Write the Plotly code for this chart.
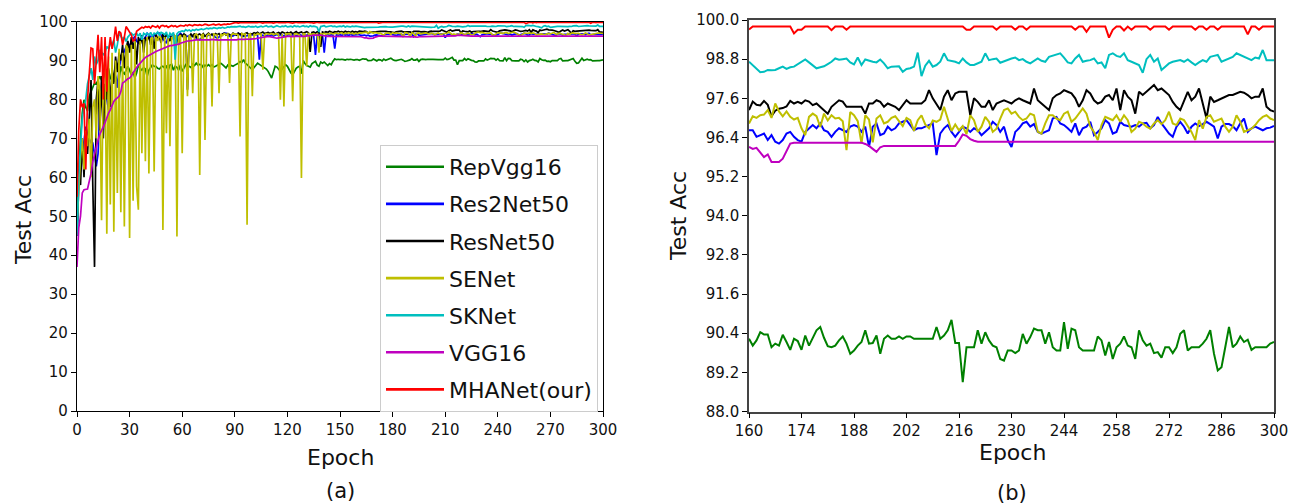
import plotly.graph_objects as go

# ---------------------------------------------------------------- data
epochs_early = list(range(0, 160))      # epochs 0..159
epochs_late = list(range(160, 301))     # epochs 160..300 (zoomed panel)

repvgg16_early = [
    45, 62, 70, 76.5, 79.9, 78, 77, 80.8, 82, 83.3,
    84.2, 84, 85, 85.9, 85, 85.5, 86.7, 86, 87.6, 85.5,
    85, 86.5, 86, 84.6, 85, 88.5, 87, 86.5, 87.5, 88.5,
    87.5, 86.3, 87, 85.5, 86.8, 88.9, 88, 87.5, 88.2, 87.8,
    85.9, 87.5, 88.2, 88.9, 88.5, 88.5, 88, 87.8, 88.3, 88.5,
    88, 88.5, 87.5, 88.8, 89, 87.5, 88.5, 88.2, 87.5, 88.9,
    87.2, 88.3, 88.9, 88.5, 88.5, 88.2, 89, 88.7, 89.3, 88.8,
    89, 88.9, 88.2, 88.8, 88.5, 88.9, 88.5, 88.9, 88.3, 88.5,
    88.8, 89, 89.3, 88.9, 88.5, 88.1, 88.8, 88.4, 88.7, 88.5,
    88.8, 89, 89.3, 89.7, 89.5, 90.2, 89.3, 88.9, 88.5, 88.0,
    87.6, 88.2, 88.8, 89.3, 89, 88.7, 88.5, 88.3, 87.8, 87.2,
    86.2, 85.5, 87, 88.5, 88.3, 87.8, 87.2, 87.8, 88.5, 88.9,
    88.5, 87.6, 86.8, 86.3, 87.2, 88, 88.3, 88.5, 86.6, 90,
    89.2, 88.7, 88.5, 88.3, 89.2, 89.6, 89.8, 88.8, 88.5, 89.6,
    89.3, 89.6, 89, 88.7, 89.2, 88.9, 89.8, 90.4, 90.2, 90.3,
    90.2, 90.3, 90.2, 90.1, 90.3, 90.2, 90.3, 90.2, 90.1, 90.2,
]
repvgg16_late = [
    90.23, 90.02, 90.18, 90.43, 90.36, 90.36, 89.97, 90.08, 90.02, 90.35,
    90.13, 89.89, 90.23, 90.16, 89.89, 90.33, 90.02, 90.26, 90.49, 90.59,
    90.26, 90.00, 89.97, 90.02, 90.18, 90.30, 90.08, 89.77, 89.87, 90.02,
    90.13, 90.49, 90.08, 90.10, 90.33, 89.77, 90.23, 90.33, 90.23, 90.23,
    90.30, 90.23, 90.30, 90.30, 90.23, 90.23, 90.23, 90.23, 90.23, 90.23,
    90.59, 90.23, 90.33, 90.49, 90.81, 90.10, 90.10, 88.90, 89.97, 89.97,
    89.97, 90.49, 90.08, 90.43, 90.18, 90.02, 89.97, 89.61, 89.56, 89.87,
    89.87, 89.79, 89.87, 90.38, 90.08, 90.28, 90.54, 90.49, 90.49, 90.08,
    90.43, 89.97, 89.87, 89.87, 90.74, 89.92, 90.54, 90.49, 89.97, 89.87,
    89.87, 89.87, 89.87, 90.30, 90.18, 89.72, 90.13, 89.61, 89.97, 90.08,
    90.30, 90.02, 89.97, 89.61, 90.49, 90.18, 90.02, 90.08, 89.79, 89.82,
    89.65, 89.97, 89.97, 89.79, 89.97, 90.38, 90.49, 89.87, 89.97, 89.97,
    89.97, 90.08, 90.23, 90.49, 89.77, 89.26, 89.36, 89.97, 90.59, 89.97,
    90.08, 90.30, 90.13, 90.20, 89.89, 89.97, 89.97, 89.97, 89.97, 90.08,
    90.13,
]

res2net50_early = [
    45, 57.7, 62, 66, 69.6, 73, 71, 69.6, 68.8, 68.8,
    66, 62.8, 66, 77.3, 79, 80.8, 80, 80, 77.3, 82,
    84.2, 84.5, 85, 83, 88, 90.2, 91.5, 92.7, 93.5, 94.4,
    94, 93.6, 95.5, 96.2, 95, 94.4, 95.5, 95.3, 95.3, 96,
    97, 96.5, 96, 95.7, 96.5, 96.8, 97, 97, 96.5, 95.5,
    95, 94.4, 96.2, 96.2, 96, 95.7, 95.8, 95.7, 96.5, 97,
    96.5, 96.2, 96, 96.2, 96.4, 96.2, 96.2, 96, 95.8, 95.5,
    95.3, 95.8, 96.2, 96.3, 96.2, 96.5, 96.6, 96.6, 96.2, 95.9,
    95.7, 96, 96.5, 96.8, 97, 97, 96.5, 96.2, 96.2, 96.3,
    96.6, 96.8, 97, 96.6, 96.2, 96.2, 96.3, 96.4, 96.5, 96.6,
    96.6, 96.5, 96.7, 96.4, 90.2, 96.2, 96.5, 96.3, 96.2, 96.6,
    96.4, 96.6, 96.3, 96.5, 96.7, 96.4, 96.6, 96.5, 96.3, 96.6,
    96.5, 96.7, 96.4, 96.6, 96.5, 96.3, 96.6, 96.7, 96.4, 96.5,
    96.6, 96.4, 96.7, 96.5, 96.6, 96.4, 91.4, 96.5, 96.6, 96.4,
    96.6, 92, 96.5, 96.7, 96.4, 96.6, 96.5, 93, 96.6, 96.5,
    96.6, 96.4, 96.7, 96.5, 96.6, 96.4, 96.7, 96.5, 96.6, 96.6,
]
res2net50_late = [
    96.62, 96.62, 96.42, 96.47, 96.52, 96.32, 96.47, 96.27, 96.21, 96.32,
    96.52, 96.57, 96.42, 96.32, 96.27, 96.57, 96.68, 96.78, 96.68, 96.83,
    96.62, 96.57, 96.42, 96.57, 96.68, 96.62, 96.57, 96.73, 96.78, 96.73,
    96.57, 96.73, 96.11, 96.73, 96.83, 96.47, 96.52, 96.73, 96.62, 96.68,
    96.83, 96.88, 96.93, 96.78, 96.62, 96.68, 96.68, 96.73, 96.78, 96.83,
    95.86, 96.52, 96.68, 96.78, 96.57, 96.42, 96.57, 96.73, 96.68, 96.57,
    96.68, 96.62, 96.47, 96.57, 96.68, 96.88, 96.78, 96.57, 96.73, 96.32,
    96.11, 96.57, 96.68, 96.83, 96.88, 96.73, 96.81, 96.57, 96.52, 96.57,
    96.62, 96.98, 97.03, 96.83, 96.78, 96.68, 96.57, 96.83, 96.47, 96.68,
    96.73, 96.88, 96.47, 96.57, 96.68, 96.93, 96.83, 96.52, 96.57, 96.88,
    96.78, 96.75, 96.73, 96.78, 96.73, 96.83, 96.85, 96.68, 96.78, 97.03,
    96.83, 96.68, 96.52, 96.42, 96.73, 96.88, 96.73, 96.52, 96.73, 96.83,
    96.75, 96.81, 96.88, 96.81, 96.73, 96.37, 96.73, 96.81, 96.81, 96.75,
    96.62, 96.83, 96.98, 96.57, 96.68, 96.73, 96.68, 96.62, 96.68, 96.70,
    96.75,
]

resnet50_early = [
    45, 62, 58, 70, 60, 72, 66, 75, 85, 58,
    37, 80, 85, 72, 86, 70, 84, 80, 88, 78,
    88, 84, 91, 87, 92, 90, 94, 88, 93, 95,
    92, 96, 93, 95.5, 89, 96, 94, 96.5, 92, 96,
    95, 96.5, 94, 96.2, 93, 96.8, 95.5, 96, 94.5, 96.8,
    95.5, 96.7, 96, 95, 96.5, 96.8, 95.7, 96.5, 94, 96.8,
    96.2, 96.8, 96.5, 82.5, 96, 96.8, 96.2, 96.9, 95.8, 96.6,
    96.8, 96.4, 96.9, 96.2, 96.6, 97, 96.5, 96.8, 96.4, 96.9,
    96.6, 96.9, 96.3, 96.8, 97, 96.5, 96.9, 96.7, 96.4, 97,
    96.8, 96.5, 97, 96.7, 96.9, 96.4, 96.9, 97.1, 96.6, 96.9,
    96.8, 97.1, 96.9, 97.2, 96.8, 97, 97.3, 96.9, 97.1, 97.2,
    96.9, 97.1, 97.3, 96.8, 97, 97.2, 96.9, 97.3, 97.1, 96.9,
    97.2, 97, 97.3, 96.9, 97.1, 97.4, 97, 97.2, 97.3, 97,
    97.2, 97.4, 97.1, 92.2, 97.2, 97.3, 97, 97.4, 97.2, 93.5,
    97.3, 97.1, 97.4, 97.2, 97.5, 97.3, 97.1, 97.4, 97.3, 97.5,
    97.3, 97.4, 97.2, 97.5, 97.3, 97.4, 97.2, 97.5, 97.3, 97.4,
]
resnet50_late = [
    97.24, 97.50, 97.40, 97.38, 97.52, 97.40, 97.05, 97.22, 97.28, 97.30,
    97.35, 97.52, 97.44, 97.49, 97.44, 97.54, 97.50, 97.39, 97.44, 97.34,
    97.24, 97.13, 97.34, 97.44, 97.54, 97.50, 97.34, 97.34, 97.34, 97.34,
    97.34, 97.13, 97.44, 97.44, 97.54, 97.49, 97.34, 97.44, 97.39, 97.34,
    97.24, 97.40, 97.54, 97.44, 97.44, 97.44, 97.44, 97.54, 97.85, 97.60,
    97.40, 97.24, 97.65, 97.85, 97.54, 97.75, 97.80, 97.80, 97.80, 97.08,
    97.60, 97.49, 97.34, 97.34, 97.54, 97.24, 97.44, 97.49, 97.54, 97.49,
    97.44, 97.54, 97.60, 97.54, 97.49, 97.44, 97.90, 97.54, 97.44, 97.34,
    97.24, 97.60, 97.70, 97.75, 97.85, 97.80, 97.75, 97.60, 97.34, 97.54,
    97.85, 97.75, 97.54, 97.44, 97.49, 97.65, 97.70, 97.54, 97.90, 97.24,
    97.85, 97.65, 97.54, 97.13, 97.80, 97.70, 97.80, 97.90, 98.01, 97.85,
    97.90, 97.80, 97.70, 97.49, 97.34, 97.24, 97.54, 97.80, 97.54, 97.65,
    97.90, 97.44, 96.98, 97.65, 97.49, 97.54, 97.60, 97.65, 97.70, 97.70,
    97.75, 97.80, 97.77, 97.70, 97.60, 97.65, 97.65, 97.90, 97.34, 97.24,
    97.19,
]

senet_early = [
    48, 58, 65, 70, 62, 72, 68, 75, 60, 78,
    80, 70, 86, 82, 49, 88, 90, 45.5, 91, 53,
    92, 46, 90, 56, 93, 51, 92, 47.4, 94, 93,
    44.4, 94, 54, 95, 57.7, 51.7, 95, 66.2, 95.5, 64.1,
    96, 61, 95.5, 96, 61.5, 96, 95, 96.5, 95.5, 46.5,
    96, 71.3, 96.5, 68, 96, 95.5, 96.5, 44.8, 96, 96.5,
    66.2, 96.5, 96, 80.8, 96.5, 95.8, 81.6, 96.5, 96.8, 96.2,
    60.6, 96.5, 96.8, 69.6, 96.3, 96.8, 96.5, 78.2, 96.8, 96.6,
    96.5, 81.6, 96.8, 96.4, 96.9, 96.6, 96.8, 84.2, 96.5, 96.9,
    96.7, 96.8, 96.5, 70.5, 96.9, 96.7, 96.8, 47.8, 96.6, 96.9,
    80.8, 96.8, 96.5, 96.9, 96.7, 96.8, 87.6, 96.6, 96.9, 96.8,
    96.7, 96.9, 96.6, 96.8, 96.9, 96.5, 79.9, 96.8, 78.2, 96.9,
    96.7, 96.9, 96.6, 79.5, 96.8, 96.9, 96.7, 96.5, 59.8, 96.9,
    96.8, 88.5, 96.9, 96.7, 96.8, 96.9, 96.6, 96.8, 92, 96.9,
    96.8, 97, 96.7, 96.9, 96.8, 97, 96.8, 96.9, 97, 96.8,
    96.9, 97.1, 96.8, 97, 96.9, 97.1, 96.9, 97, 96.8, 97,
]
senet_late = [
    96.83, 97.05, 97.00, 97.08, 97.10, 97.24, 97.00, 97.44, 97.20, 97.05,
    97.20, 97.03, 96.95, 97.00, 96.68, 96.47, 97.03, 97.13, 97.05, 96.72,
    97.13, 96.92, 97.08, 96.98, 97.00, 96.90, 96.01, 97.18, 97.08, 96.90,
    96.21, 97.08, 96.95, 96.25, 96.98, 97.08, 96.83, 96.88, 97.00, 97.05,
    96.90, 96.75, 97.00, 96.93, 96.60, 96.93, 97.08, 96.80, 96.68, 96.92,
    96.88, 96.95, 97.34, 96.98, 96.60, 96.80, 96.62, 96.75, 96.50, 97.08,
    96.93, 96.57, 96.73, 97.03, 96.88, 96.57, 96.67, 96.98, 97.24, 97.29,
    97.13, 97.19, 97.03, 96.93, 96.98, 97.13, 97.08, 96.57, 96.52, 96.83,
    97.08, 97.08, 96.98, 96.93, 97.13, 97.19, 96.88, 96.98, 97.13, 97.29,
    97.13, 96.73, 96.57, 96.32, 96.78, 97.03, 96.98, 96.93, 97.08, 96.88,
    97.08, 96.93, 96.57, 96.67, 96.88, 96.83, 96.73, 96.67, 96.83, 96.93,
    96.81, 96.93, 97.19, 96.83, 96.78, 96.98, 96.93, 96.73, 96.57, 96.32,
    96.93, 96.67, 97.03, 97.08, 96.88, 96.93, 96.98, 96.73, 96.57, 96.73,
    97.08, 96.88, 96.57, 96.62, 96.67, 96.78, 96.93, 97.03, 97.08, 96.98,
    96.93,
]

sknet_early = [
    45, 60, 68, 75, 78, 80, 84, 86, 88, 85,
    91, 89, 90, 92.7, 92, 91.5, 92, 93.6, 93, 94.4,
    94, 95.3, 92, 94, 97, 96.2, 95.5, 96, 94.9, 96,
    96.6, 97, 96.5, 96.8, 97, 96.2, 97, 95.3, 97, 96.6,
    97, 96.4, 97.2, 96.2, 97, 96.8, 97.3, 96.5, 97.2, 97,
    96.6, 97.3, 95.7, 97, 96.5, 97.2, 90.2, 96.8, 97.3, 97.4,
    97.6, 97.4, 97.9, 97.6, 97.8, 97.5, 97.9, 97.7, 98, 97.8,
    97.9, 98.1, 97.9, 98.2, 98.3, 98.1, 98.3, 98.2, 98.4, 98.3,
    98.2, 98.4, 98.3, 98.5, 98.3, 98.4, 98.6, 98.5, 98.7, 98.6,
    98.7, 98.6, 98.7, 98.8, 98.6, 98.7, 98.5, 98.7, 98.8, 98.6,
    98.7, 98.6, 98.8, 98.5, 98.7, 98.8, 98.6, 98.7, 98.9, 98.6,
    98.7, 98.8, 98.5, 98.7, 98.9, 98.7, 98.6, 98.8, 98.7, 98.9,
    98.6, 98.7, 98.8, 98.6, 98.9, 98.7, 98.8, 98.6, 98.7, 98.9,
    98.7, 98.8, 98.6, 98.9, 98.7, 98.8, 98.7, 98.5, 97.3, 98.7,
    98.8, 98.9, 98.6, 98.7, 98.8, 98.9, 98.7, 98.8, 98.6, 98.7,
    98.8, 98.7, 98.9, 98.6, 98.8, 98.7, 98.6, 98.8, 98.7, 98.8,
]
sknet_late = [
    98.72, 98.62, 98.52, 98.40, 98.41, 98.47, 98.46, 98.47, 98.52, 98.57,
    98.50, 98.55, 98.57, 98.64, 98.70, 98.79, 98.70, 98.60, 98.52, 98.55,
    98.58, 98.65, 98.72, 98.82, 98.78, 98.80, 98.82, 98.70, 98.64, 98.85,
    98.62, 98.79, 98.75, 98.72, 98.70, 98.79, 98.67, 98.52, 98.57, 98.57,
    98.58, 98.41, 98.50, 98.52, 98.57, 99.00, 98.28, 98.60, 98.75, 98.57,
    98.62, 98.72, 98.98, 98.77, 98.75, 98.72, 98.67, 98.82, 98.70, 98.62,
    98.62, 98.67, 98.72, 98.98, 98.77, 98.80, 98.82, 98.69, 98.74, 98.79,
    98.82, 98.85, 98.77, 98.80, 98.72, 98.67, 98.75, 98.82, 98.75, 98.72,
    98.87, 98.90, 98.93, 98.98, 98.85, 98.70, 98.67, 98.82, 98.93, 98.72,
    98.75, 98.77, 98.82, 98.67, 98.70, 98.52, 98.93, 98.98, 98.90, 98.87,
    98.98, 98.77, 98.72, 98.67, 98.62, 98.38, 98.80, 98.93, 98.72, 98.82,
    98.47, 98.57, 98.67, 98.72, 98.75, 98.77, 98.72, 98.79, 98.70, 98.62,
    98.70, 98.77, 98.72, 98.87, 98.90, 98.93, 98.72, 98.77, 98.82, 98.87,
    98.98, 98.93, 98.88, 98.82, 98.77, 98.85, 98.82, 99.08, 98.77, 98.77,
    98.77,
]

vgg16_early = [
    37, 47, 50, 56, 56.8, 57, 57, 59, 61, 64,
    66, 68, 69.6, 71, 72.2, 73, 74, 75.5, 76.5, 77.3,
    78.5, 79.5, 80, 80.3, 80.8, 82, 84.2, 84.5, 85, 85.3,
    85.5, 86, 86.8, 87.6, 88.2, 88.8, 89.3, 89.8, 90.4, 90.8,
    91, 91.3, 91.6, 91.9, 92.1, 92.3, 92.5, 92.7, 92.9, 93.1,
    93.4, 93.6, 93.7, 93.8, 93.8, 93.9, 94, 94, 94.2, 94.4,
    94.6, 94.8, 94.9, 95, 95, 95.1, 95.2, 95.2, 95.3, 95.3,
    95.3, 95.2, 95.3, 95.3, 95.2, 95.3, 95.3, 95.4, 95.3, 95.3,
    95.3, 95.2, 95.3, 95.3, 95.3, 95.2, 95.3, 95.3, 95.2, 95.3,
    95.3, 95.3, 95.4, 95.4, 95.3, 95.4, 95.4, 95.5, 95.4, 95.5,
    95.5, 95.6, 95.6, 95.7, 95.8, 95.9, 96.0, 96.1, 96.2, 96.2,
    96.1, 96.0, 95.9, 95.8, 95.7, 95.8, 95.9, 96.0, 96.1, 96.2,
    96.2, 96.2, 96.1, 96.1, 96.2, 96.2, 96.2, 96.2, 96.1, 96.1,
    96.2, 96.3, 96.3, 96.4, 96.4, 96.5, 96.5, 96.6, 96.6, 96.5,
    96.4, 96.3, 96.3, 96.2, 96.2, 96.2, 96.1, 96.1, 96.1, 96.2,
    96.1, 96.1, 96.2, 96.1, 96.1, 96.2, 96.1, 96.1, 96.2, 96.1,
]
vgg16_late = [
    96.11, 96.05, 96.08, 95.95, 95.80, 95.88, 95.65, 95.65, 95.65, 95.75,
    96.00, 96.21, 96.24, 96.24, 96.24, 96.24, 96.24, 96.24, 96.24, 96.24,
    96.24, 96.24, 96.24, 96.24, 96.24, 96.24, 96.24, 96.24, 96.24, 96.24,
    96.24, 96.20, 96.14, 96.05, 95.96, 96.10, 96.14, 96.14, 96.14, 96.14,
    96.14, 96.14, 96.14, 96.14, 96.14, 96.14, 96.14, 96.14, 96.14, 96.14,
    96.14, 96.14, 96.14, 96.14, 96.14, 96.14, 96.30, 96.49, 96.45, 96.35,
    96.30, 96.27, 96.27, 96.27, 96.27, 96.27, 96.27, 96.27, 96.27, 96.27,
    96.27, 96.27, 96.27, 96.27, 96.27, 96.27, 96.27, 96.27, 96.27, 96.27,
    96.27, 96.27, 96.27, 96.27, 96.27, 96.27, 96.27, 96.27, 96.27, 96.27,
    96.27, 96.27, 96.27, 96.27, 96.27, 96.27, 96.27, 96.27, 96.27, 96.27,
    96.27, 96.27, 96.27, 96.27, 96.27, 96.27, 96.27, 96.27, 96.27, 96.27,
    96.27, 96.27, 96.27, 96.27, 96.27, 96.27, 96.27, 96.27, 96.27, 96.27,
    96.27, 96.27, 96.27, 96.27, 96.27, 96.27, 96.27, 96.27, 96.27, 96.27,
    96.27, 96.27, 96.27, 96.27, 96.27, 96.27, 96.27, 96.27, 96.27, 96.27,
    96.27,
]

mhanet_early = [
    55, 72, 80, 78, 79, 62, 80, 88, 93.2, 93,
    84, 90, 96.6, 87, 96, 80, 96, 82, 92, 96,
    93, 95, 98.7, 95, 97.5, 97, 94, 96, 98.7, 98,
    97.4, 96.5, 95, 95.3, 97.5, 97.8, 98.3, 98.5, 98.3, 98.7,
    98.5, 98.7, 98.3, 98.9, 98.7, 98.5, 98.9, 98.3, 98.9, 99,
    98.7, 98.9, 98.5, 98.8, 99, 98.7, 98.9, 98.6, 98.8, 99,
    98.9, 98.8, 99.1, 98.9, 99.2, 99, 98.9, 99.2, 99.1, 99,
    99.2, 99, 99.1, 99.3, 99.2, 99, 99.1, 99.2, 99.3, 99.1,
    99.2, 99.3, 99.1, 99.2, 99.3, 99.2, 99.4, 99.3, 99.5, 99.6,
    99.7, 99.7, 99.6, 99.7, 99.7, 99.7, 99.6, 99.7, 99.7, 99.7,
    99.7, 99.6, 99.7, 99.7, 99.8, 99.7, 99.6, 99.7, 99.7, 99.8,
    99.7, 99.7, 99.6, 99.7, 99.8, 99.7, 99.7, 99.6, 99.7, 99.7,
    99.8, 99.7, 99.7, 99.6, 99.7, 99.8, 99.7, 99.7, 99.7, 99.6,
    99.7, 99.8, 99.7, 99.7, 99.7, 99.6, 99.7, 99.8, 99.7, 99.7,
    99.8, 99.7, 99.7, 99.8, 99.7, 99.8, 99.7, 99.8, 99.8, 99.7,
    99.8, 99.8, 99.8, 99.8, 99.8, 99.8, 99.8, 99.8, 99.8, 99.8,
]
mhanet_late = [
    99.71, 99.80, 99.80, 99.80, 99.80, 99.80, 99.80, 99.80, 99.80, 99.80,
    99.80, 99.80, 99.59, 99.70, 99.70, 99.80, 99.80, 99.80, 99.80, 99.80,
    99.80, 99.80, 99.69, 99.80, 99.80, 99.80, 99.70, 99.80, 99.80, 99.80,
    99.80, 99.80, 99.80, 99.80, 99.80, 99.80, 99.80, 99.80, 99.80, 99.80,
    99.80, 99.80, 99.80, 99.80, 99.80, 99.80, 99.80, 99.80, 99.80, 99.80,
    99.80, 99.80, 99.80, 99.80, 99.80, 99.80, 99.80, 99.80, 99.70, 99.70,
    99.80, 99.80, 99.80, 99.80, 99.80, 99.80, 99.70, 99.80, 99.80, 99.80,
    99.80, 99.70, 99.80, 99.80, 99.70, 99.80, 99.80, 99.80, 99.80, 99.80,
    99.80, 99.80, 99.80, 99.80, 99.80, 99.80, 99.80, 99.70, 99.80, 99.80,
    99.64, 99.80, 99.80, 99.80, 99.80, 99.80, 99.46, 99.70, 99.80, 99.80,
    99.68, 99.80, 99.70, 99.80, 99.80, 99.80, 99.80, 99.70, 99.80, 99.80,
    99.80, 99.80, 99.70, 99.80, 99.80, 99.80, 99.80, 99.80, 99.80, 99.70,
    99.80, 99.80, 99.70, 99.80, 99.80, 99.70, 99.80, 99.80, 99.80, 99.80,
    99.80, 99.80, 99.80, 99.56, 99.80, 99.80, 99.70, 99.80, 99.80, 99.80,
    99.80,
]

# name, matplotlib-style colour, early part, late part
series = [
    ("RepVgg16", "#008000", repvgg16_early, repvgg16_late),
    ("Res2Net50", "#0000ff", res2net50_early, res2net50_late),
    ("ResNet50", "#000000", resnet50_early, resnet50_late),
    ("SENet", "#bfbf00", senet_early, senet_late),
    ("SKNet", "#00bfbf", sknet_early, sknet_late),
    ("VGG16", "#bf00bf", vgg16_early, vgg16_late),
    ("MHANet(our)", "#ff0000", mhanet_early, mhanet_late),
]

left_xticks = list(range(0, 301, 30))
left_yticks = list(range(0, 101, 10))
right_xticks = list(range(160, 301, 14))
right_yticks = [88.0 + 1.2 * i for i in range(11)]

for name, _, early, late in series:
    assert len(early) == len(epochs_early), (name, len(early))
    assert len(late) == len(epochs_late), (name, len(late))

# ---------------------------------------------------------------- figure
W, H = 1304, 504
FONT = "DejaVu Sans"

fig = go.Figure()
# full run (left panel)
for name, color, early, late in series:
    fig.add_trace(go.Scatter(
        x=epochs_early + epochs_late, y=early + late, mode="lines", name=name,
        showlegend=False, legendgroup=name,
        line=dict(color=color, width=1.7), xaxis="x", yaxis="y",
    ))
# last 140 epochs (right panel)
for name, color, early, late in series:
    fig.add_trace(go.Scatter(
        x=epochs_late, y=late, mode="lines", name=name, showlegend=False,
        legendgroup=name, line=dict(color=color, width=2),
        xaxis="x2", yaxis="y2",
    ))
# legend keys with a heavier stroke (no points of their own)
for name, color, _, _ in series:
    fig.add_trace(go.Scatter(
        x=[None], y=[None], mode="lines", name=name, legendgroup=name,
        line=dict(color=color, width=2.6), xaxis="x", yaxis="y",
        hoverinfo="skip",
    ))


def px_x(p):
    return p / W


def px_y(p):
    return 1 - p / H


axis_common = dict(
    showgrid=False, zeroline=False, showline=True, mirror=True,
    automargin=False,
    ticks="outside", ticklen=5, tickwidth=1.2, tickcolor="#000",
    tickfont=dict(family=FONT, size=15, color="#111"),
)

fig.update_layout(
    width=W, height=H,
    margin=dict(l=0, r=0, t=0, b=0, autoexpand=False),
    paper_bgcolor="white", plot_bgcolor="white",
    font=dict(family=FONT, color="#111"),
    xaxis=dict(domain=[px_x(77), px_x(603)], range=[0, 300],
               tickvals=left_xticks, anchor="y",
               linecolor="#000", linewidth=1.4, **axis_common),
    yaxis=dict(domain=[px_y(411), px_y(21.5)], range=[0, 100],
               tickvals=left_yticks, anchor="x",
               linecolor="#000", linewidth=1.4, **axis_common),
    xaxis2=dict(domain=[px_x(749), px_x(1274)], range=[160, 300],
                tickvals=right_xticks, anchor="y2",
                linecolor="#444", linewidth=1.6, **axis_common),
    yaxis2=dict(domain=[px_y(411.5), px_y(20)], range=[88, 100],
                tickvals=right_yticks,
                ticktext=[f"{v:.1f}" for v in right_yticks], anchor="x2",
                linecolor="#444", linewidth=1.6, **axis_common),
    showlegend=True,
    legend=dict(
        x=px_x(380), y=px_y(145), xanchor="left", yanchor="top",
        bgcolor="white", bordercolor="#cccccc", borderwidth=1,
        font=dict(family=FONT, size=22, color="#111"),
        traceorder="grouped", tracegroupgap=5.5, itemwidth=58,
    ),
)

annotations = [
    dict(text="Test Acc", x=px_x(23), y=px_y(220), textangle=-90, size=22),
    dict(text="Test Acc", x=px_x(678), y=px_y(216), textangle=-90, size=22),
    dict(text="Epoch", x=px_x(340), y=px_y(457), textangle=0, size=22),
    dict(text="Epoch", x=px_x(1012), y=px_y(452), textangle=0, size=22),
    dict(text="(a)", x=px_x(340), y=px_y(491), textangle=0, size=21),
    dict(text="(b)", x=px_x(1012), y=px_y(493), textangle=0, size=21),
]
for a in annotations:
    fig.add_annotation(
        text=a["text"], x=a["x"], y=a["y"], xref="paper", yref="paper",
        xanchor="center", yanchor="middle", showarrow=False,
        textangle=a["textangle"],
        font=dict(family=FONT, size=a["size"], color="#111"),
    )

fig.write_html("out.html")
